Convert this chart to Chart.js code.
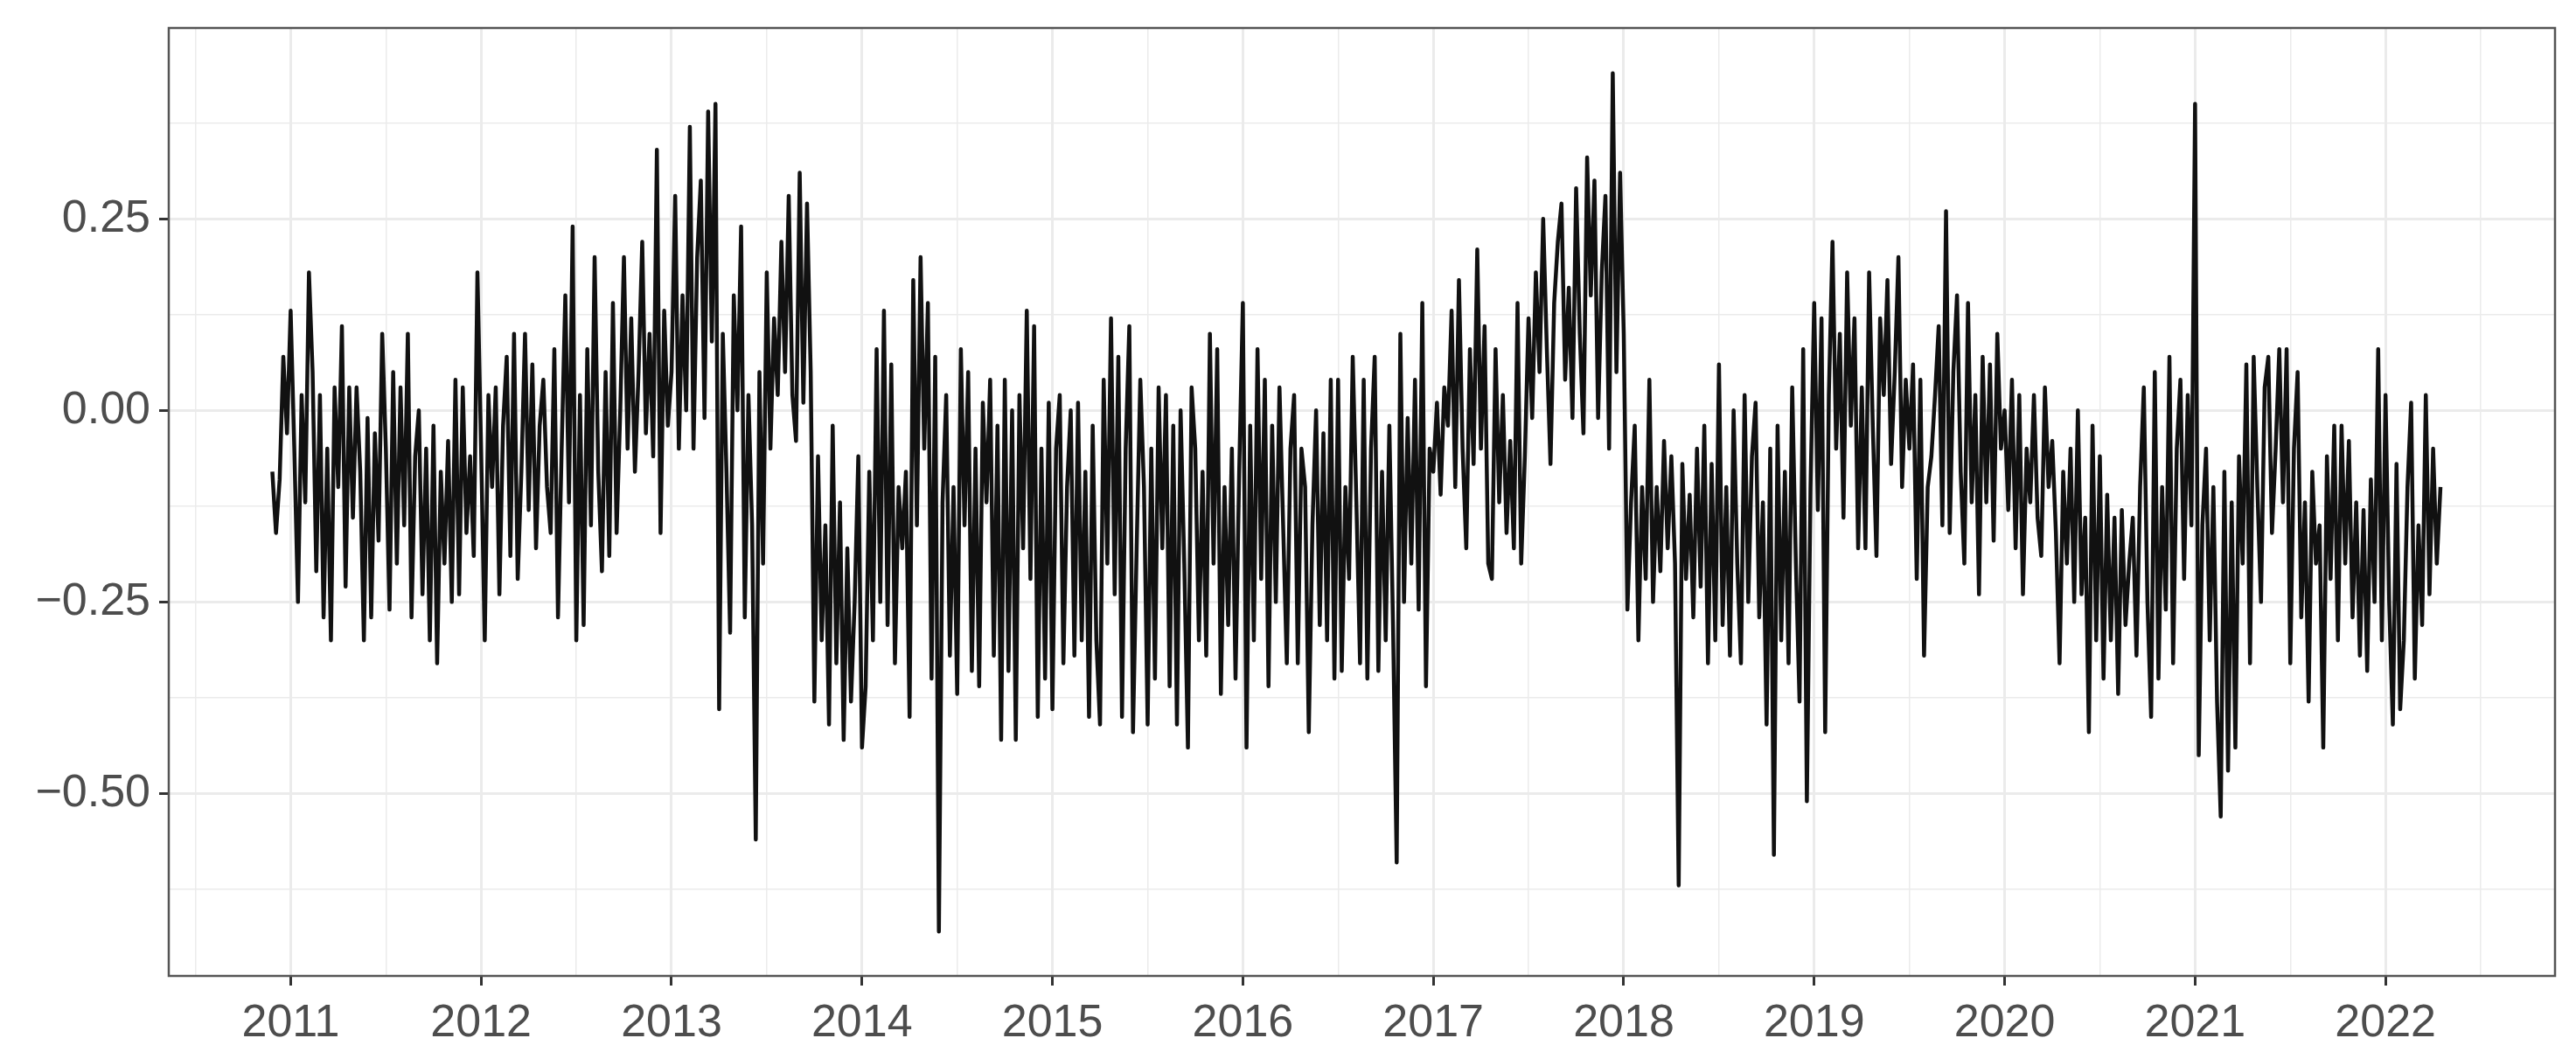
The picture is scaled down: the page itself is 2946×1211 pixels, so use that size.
<!DOCTYPE html>
<html>
<head>
<meta charset="utf-8">
<script src="https://cdn.jsdelivr.net/npm/chart.js@4.4.1/dist/chart.umd.min.js"></script>
<style>
  html, body { margin: 0; padding: 0; background: #fff; }
</style>
</head>
<body>
<canvas id="chart" width="2946" height="1211"></canvas>
<script>
// weekly values, one array per year
const w2010 = [-0.08, -0.16, -0.09, 0.07, -0.03];
const w2011 = [
  0.13, -0.05, -0.25, 0.02, -0.12, 0.18, 0.05, -0.21, 0.02, -0.27, -0.05, -0.30, 0.03,
  -0.10, 0.11, -0.23, 0.03, -0.14, 0.03, -0.08, -0.30, -0.01, -0.27, -0.03, -0.17, 0.10,
  -0.05, -0.26, 0.05, -0.20, 0.03, -0.15, 0.10, -0.27, -0.06, 0.00, -0.24, -0.05, -0.30,
  -0.02, -0.33, -0.08, -0.20, -0.04, -0.25, 0.04, -0.24, 0.03, -0.16, -0.06, -0.19, 0.18
];
const w2012 = [
  -0.05, -0.30, 0.02, -0.10, 0.03, -0.24, -0.02, 0.07, -0.19, 0.10, -0.22, -0.08, 0.10,
  -0.13, 0.06, -0.18, -0.02, 0.04, -0.10, -0.16, 0.08, -0.27, -0.05, 0.15, -0.12, 0.24,
  -0.30, 0.02, -0.28, 0.08, -0.15, 0.20, -0.08, -0.21, 0.05, -0.19, 0.14, -0.16, 0.00,
  0.20, -0.05, 0.12, -0.08, 0.05, 0.22, -0.03, 0.10, -0.06, 0.34, -0.16, 0.13, -0.02
];
const w2013 = [
  0.05, 0.28, -0.05, 0.15, 0.00, 0.37, -0.05, 0.20, 0.30, -0.01, 0.39, 0.09, 0.40,
  -0.39, 0.10, -0.08, -0.29, 0.15, 0.00, 0.24, -0.27, 0.02, -0.15, -0.56, 0.05, -0.20,
  0.18, -0.05, 0.12, 0.02, 0.22, 0.05, 0.28, 0.02, -0.04, 0.31, 0.01, 0.27, 0.05,
  -0.38, -0.06, -0.30, -0.15, -0.41, -0.02, -0.33, -0.12, -0.43, -0.18, -0.38, -0.25, -0.06
];
const w2014 = [
  -0.44, -0.36, -0.08, -0.30, 0.08, -0.25, 0.13, -0.28, 0.06, -0.33, -0.10, -0.18, -0.08,
  -0.40, 0.17, -0.15, 0.20, -0.05, 0.14, -0.35, 0.07, -0.68, -0.12, 0.02, -0.32, -0.10,
  -0.37, 0.08, -0.15, 0.05, -0.34, -0.05, -0.36, 0.01, -0.12, 0.04, -0.32, -0.02, -0.43,
  0.04, -0.34, 0.00, -0.43, 0.02, -0.18, 0.13, -0.22, 0.11, -0.40, -0.05, -0.35, 0.01
];
const w2015 = [
  -0.39, -0.05, 0.02, -0.33, -0.10, 0.00, -0.32, 0.01, -0.30, -0.08, -0.40, -0.02, -0.30,
  -0.41, 0.04, -0.20, 0.12, -0.24, 0.07, -0.40, -0.05, 0.11, -0.42, -0.18, 0.04, -0.10,
  -0.41, -0.05, -0.35, 0.03, -0.18, 0.02, -0.36, -0.02, -0.41, 0.00, -0.20, -0.44, 0.03,
  -0.05, -0.30, -0.08, -0.32, 0.10, -0.20, 0.08, -0.37, -0.10, -0.28, -0.05, -0.35, -0.08
];
const w2016 = [
  0.14, -0.44, -0.02, -0.30, 0.08, -0.22, 0.04, -0.36, -0.02, -0.25, 0.03, -0.15, -0.33,
  -0.05, 0.02, -0.33, -0.05, -0.10, -0.42, -0.15, 0.00, -0.28, -0.03, -0.30, 0.04, -0.35,
  0.04, -0.34, -0.10, -0.22, 0.07, -0.12, -0.33, 0.04, -0.35, -0.05, 0.07, -0.34, -0.08,
  -0.30, -0.02, -0.28, -0.59, 0.10, -0.25, -0.01, -0.20, 0.04, -0.26, 0.14, -0.36, -0.05
];
const w2017 = [
  -0.08, 0.01, -0.11, 0.03, -0.02, 0.13, -0.10, 0.17, -0.05, -0.18, 0.08, -0.07, 0.21,
  -0.05, 0.11, -0.20, -0.22, 0.08, -0.12, 0.02, -0.16, -0.04, -0.18, 0.14, -0.20, -0.06,
  0.12, -0.01, 0.18, 0.05, 0.25, 0.08, -0.07, 0.14, 0.22, 0.27, 0.04, 0.16, -0.01,
  0.29, 0.10, -0.03, 0.33, 0.15, 0.30, -0.01, 0.18, 0.28, -0.05, 0.44, 0.05, 0.31
];
const w2018 = [
  0.10, -0.26, -0.12, -0.02, -0.30, -0.10, -0.22, 0.04, -0.25, -0.10, -0.21, -0.04, -0.18,
  -0.06, -0.20, -0.62, -0.07, -0.22, -0.11, -0.27, -0.05, -0.23, -0.02, -0.33, -0.07, -0.30,
  0.06, -0.28, -0.10, -0.32, 0.00, -0.20, -0.33, 0.02, -0.25, -0.06, 0.01, -0.27, -0.12,
  -0.41, -0.05, -0.58, -0.02, -0.30, -0.08, -0.33, 0.03, -0.20, -0.38, 0.08, -0.51, -0.10
];
const w2019 = [
  0.14, -0.13, 0.12, -0.42, 0.02, 0.22, -0.05, 0.10, -0.14, 0.18, -0.02, 0.12, -0.18,
  0.03, -0.18, 0.18, -0.02, -0.19, 0.12, 0.02, 0.17, -0.07, 0.05, 0.20, -0.10, 0.04,
  -0.05, 0.06, -0.22, 0.04, -0.32, -0.10, -0.06, 0.02, 0.11, -0.15, 0.26, -0.16, 0.05,
  0.15, -0.08, -0.20, 0.14, -0.12, 0.02, -0.24, 0.07, -0.12, 0.06, -0.17, 0.10, -0.05
];
const w2020 = [
  0.00, -0.13, 0.04, -0.18, 0.02, -0.24, -0.05, -0.12, 0.02, -0.14, -0.19, 0.03, -0.10,
  -0.04, -0.16, -0.33, -0.08, -0.20, -0.05, -0.25, 0.00, -0.24, -0.14, -0.42, -0.02, -0.30,
  -0.06, -0.35, -0.11, -0.30, -0.14, -0.37, -0.13, -0.28, -0.20, -0.14, -0.32, -0.10, 0.03,
  -0.25, -0.40, 0.05, -0.35, -0.10, -0.26, 0.07, -0.33, -0.05, 0.04, -0.22, 0.02, -0.15
];
const w2021 = [
  0.40, -0.45, -0.15, -0.05, -0.30, -0.10, -0.38, -0.53, -0.08, -0.47, -0.12, -0.44, -0.06,
  -0.20, 0.06, -0.33, 0.07, -0.10, -0.25, 0.03, 0.07, -0.16, -0.05, 0.08, -0.12, 0.08,
  -0.33, -0.05, 0.05, -0.27, -0.12, -0.38, -0.08, -0.20, -0.15, -0.44, -0.06, -0.22, -0.02,
  -0.30, -0.02, -0.20, -0.04, -0.27, -0.12, -0.32, -0.13, -0.34, -0.09, -0.25, 0.08, -0.30
];
const w2022 = [0.02, -0.25, -0.41, -0.07, -0.39, -0.30, -0.10, 0.01, -0.35, -0.15, -0.28, 0.02, -0.24, -0.05, -0.20, -0.10];

// first week of each array, as a decimal year
const yearStarts = [2010 + 47 / 52, 2011, 2012, 2013, 2014, 2015, 2016, 2017, 2018, 2019, 2020, 2021, 2022];
const yearValues = [w2010, w2011, w2012, w2013, w2014, w2015, w2016, w2017, w2018, w2019, w2020, w2021, w2022];

// axis breaks
const yearTicks = [2011, 2012, 2013, 2014, 2015, 2016, 2017, 2018, 2019, 2020, 2021, 2022];
const valueTicks = [-0.5, -0.25, 0, 0.25];

const points = [];
yearValues.forEach((vals, i) => {
  vals.forEach((v, k) => points.push({ x: yearStarts[i] + k / 52, y: v }));
});

// major + minor grid positions
const xGrid = [yearTicks[0] - 0.5];
yearTicks.forEach(t => { xGrid.push(t, t + 0.5); });
const yGrid = [valueTicks[0] - 0.125];
valueTicks.forEach(t => { yGrid.push(t, t + 0.125); });

const isYear = v => yearTicks.includes(v);
const isValue = v => valueTicks.includes(v);

const labelFont = { family: '"Liberation Sans", Arial, sans-serif', size: 52 };

const panelBorder = {
  id: 'panelBorder',
  afterDraw(chart) {
    const { ctx, chartArea: a } = chart;
    ctx.save();
    ctx.strokeStyle = '#555555';
    ctx.lineWidth = 2.5;
    ctx.strokeRect(a.left, a.top, a.right - a.left, a.bottom - a.top);
    ctx.restore();
  }
};

new Chart(document.getElementById('chart').getContext('2d'), {
  type: 'line',
  data: {
    datasets: [{
      data: points,
      borderColor: '#111111',
      borderWidth: 4.5,
      borderJoinStyle: 'round',
      pointRadius: 0,
      tension: 0,
      fill: false
    }]
  },
  options: {
    responsive: false,
    animation: false,
    devicePixelRatio: 1,
    layout: { padding: { top: 32, right: 24, left: 0, bottom: 0 } },
    plugins: { legend: { display: false }, tooltip: { enabled: false } },
    scales: {
      x: {
        type: 'linear',
        min: 2010.36,
        max: 2022.89,
        afterBuildTicks: s => { s.ticks = xGrid.map(v => ({ value: v })); },
        afterFit: s => { s.height = 95; s.paddingLeft = 0; s.paddingRight = 0; },
        border: { display: false },
        grid: {
          color: '#EBEBEB',
          lineWidth: c => isYear(c.tick.value) ? 3 : 1.5,
          tickColor: c => isYear(c.tick.value) ? '#333333' : 'rgba(0,0,0,0)',
          tickWidth: 3,
          tickLength: 11
        },
        ticks: {
          autoSkip: false,
          maxRotation: 0,
          padding: 12,
          color: '#4D4D4D',
          font: labelFont,
          callback: v => isYear(v) ? String(v) : ''
        }
      },
      y: {
        type: 'linear',
        min: -0.738,
        max: 0.499,
        afterBuildTicks: s => { s.ticks = yGrid.map(v => ({ value: v })); },
        afterFit: s => { s.width = 193; s.paddingTop = 0; s.paddingBottom = 0; },
        border: { display: false },
        grid: {
          color: '#EBEBEB',
          lineWidth: c => isValue(c.tick.value) ? 3 : 1.5,
          tickColor: c => isValue(c.tick.value) ? '#333333' : 'rgba(0,0,0,0)',
          tickWidth: 3,
          tickLength: 11
        },
        ticks: {
          autoSkip: false,
          padding: 10,
          color: '#4D4D4D',
          font: labelFont,
          callback: v => isValue(v) ? (v < 0 ? '\u2212' : '') + Math.abs(v).toFixed(2) : ''
        }
      }
    }
  },
  plugins: [panelBorder]
});
</script>
</body>
</html>
